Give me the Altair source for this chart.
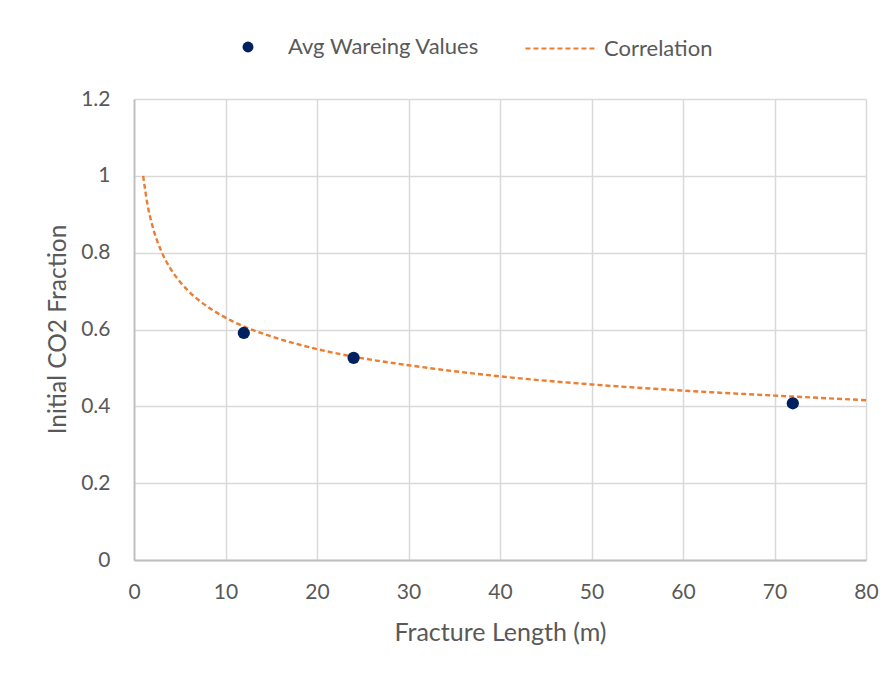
import altair as alt
import pandas as pd

# Measured points
pt_x = [12, 24, 72]
pt_y = [0.591, 0.526, 0.408]

# Correlation curve
cur_x = [1, 1.5, 2, 3, 4, 5, 6, 8, 10, 12, 15, 20, 25, 30, 40, 50, 60, 70, 80]
cur_y = [1.0, 0.922, 0.871, 0.803, 0.758, 0.725, 0.699, 0.66, 0.631, 0.608,
         0.582, 0.549, 0.525, 0.507, 0.478, 0.457, 0.441, 0.428, 0.416]

x_ticks = [0, 10, 20, 30, 40, 50, 60, 70, 80]
y_ticks = [0, 0.2, 0.4, 0.6, 0.8, 1.0, 1.2]

pts = pd.DataFrame({"x": pt_x, "y": pt_y, "series": "Avg Wareing Values"})
cur = pd.DataFrame({"x": cur_x, "y": cur_y, "series": "Correlation"})

FONT = "Lato"
TXT = "#595959"
GRID = "#D9D9D9"

xenc = alt.X("x:Q", scale=alt.Scale(domain=[0, 80], nice=False),
             axis=alt.Axis(values=x_ticks, title="Fracture Length (m)",
                           ticks=False, labelPadding=21, labelFontSize=21,
                           labelFlush=False, labelOverlap=False,
                           titleFontSize=25, titleFontWeight="normal",
                           titleX=366, titleY=72, titleBaseline="middle",
                           titleAlign="center"))
yenc = alt.Y("y:Q", scale=alt.Scale(domain=[0, 1.2], nice=False),
             axis=alt.Axis(values=y_ticks, title="Initial CO2 Fraction",
                           ticks=False, labelPadding=24, labelFontSize=21,
                           labelFlush=False, labelOverlap=False,
                           titleFontSize=24.5, titleFontWeight="normal",
                           titleX=-76, titleY=230, titleAngle=270,
                           titleBaseline="middle", titleAlign="center",
                           labelExpr="format(datum.value, '.1~f')"))

line = alt.Chart(cur).mark_line(strokeWidth=2.4, color="#ED7D31",
                                interpolate="monotone").encode(
    x=xenc, y=yenc,
    strokeDash=alt.StrokeDash("series:N",
        scale=alt.Scale(domain=["Correlation"], range=[[5, 3]]),
        legend=alt.Legend(title=None, orient="none", legendX=390, legendY=-88,
                          symbolType="stroke", symbolSize=5200,
                          symbolStrokeColor="#ED7D31", symbolStrokeWidth=2,
                          labelFontSize=22, labelColor=TXT, labelFont=FONT,
                          labelOffset=5, labelLimit=400)),
)

points = alt.Chart(pts).mark_point(filled=True, size=150, opacity=1).encode(
    x=xenc, y=yenc,
    color=alt.Color("series:N",
        scale=alt.Scale(domain=["Avg Wareing Values"], range=["#002060"]),
        legend=alt.Legend(title=None, orient="none", legendX=103, legendY=-63,
                          symbolType="circle", symbolSize=120,
                          labelFontSize=22, labelColor=TXT, labelFont=FONT,
                          labelOffset=29, labelLimit=400)),
)

chart = alt.layer(line, points).resolve_legend(color="independent", strokeDash="independent").properties(
    width=732, height=461,
    autosize=alt.AutoSizeParams(type="none"),
    padding={"left": 126, "top": 91, "right": 22, "bottom": 107},
    background="white",
).configure_view(stroke=None).configure_axis(
    labelFont=FONT, titleFont=FONT, labelColor=TXT, titleColor=TXT,
    gridColor=GRID, gridWidth=1.5, domainColor="#BFBFBF", domainWidth=1.8,
)

chart.save("out.html", embed_options={"renderer": "svg", "actions": False})
